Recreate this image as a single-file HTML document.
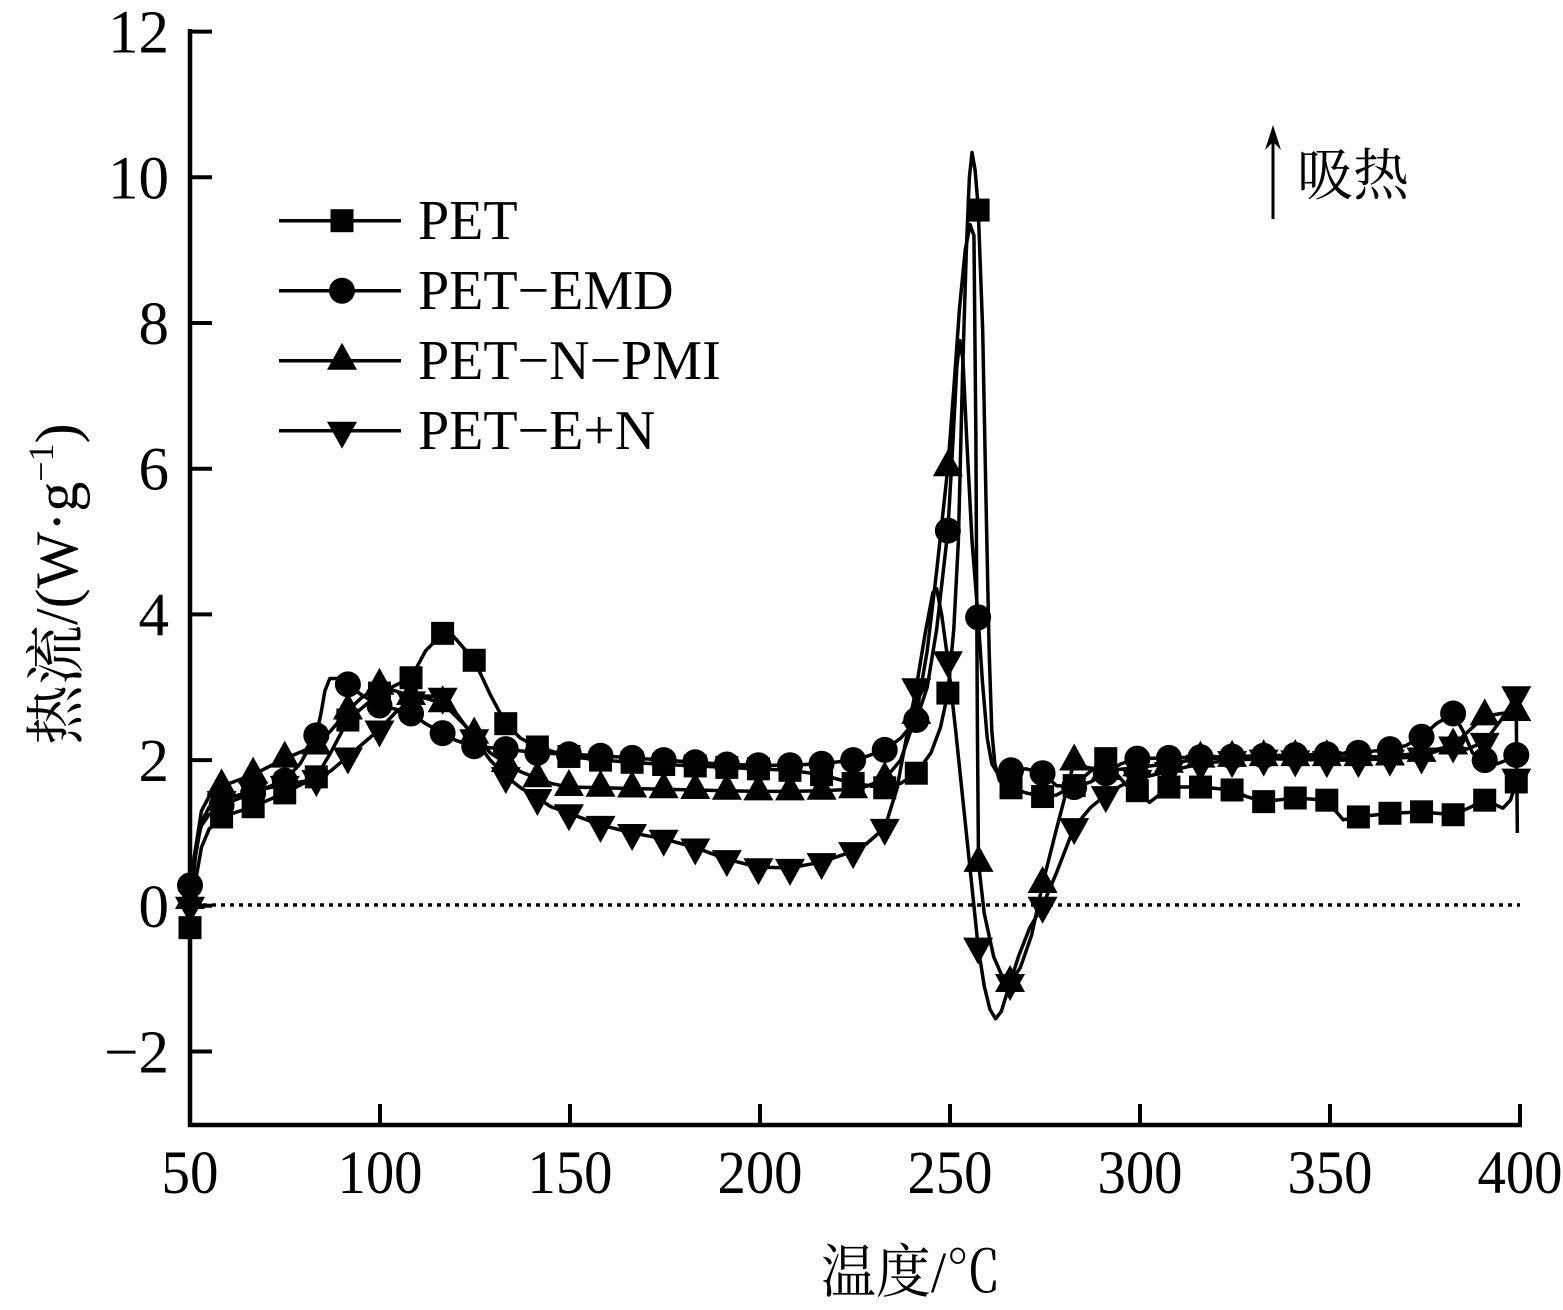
<!DOCTYPE html>
<html>
<head>
<meta charset="utf-8">
<style>
html,body{margin:0;padding:0;background:#fff;overflow:hidden;}
svg{display:block;}
text{fill:#000;}
.num{font-family:"Liberation Serif","Noto Serif CJK SC",serif;}
.cjk{font-family:"Liberation Serif","Noto Serif CJK SC","Noto Sans CJK SC",serif;}
</style>
</head>
<body>
<svg width="1563" height="1310" viewBox="0 0 1563 1310" xmlns="http://www.w3.org/2000/svg">
<defs>
  <g id="sq" transform="scale(0.2631579,-0.0137268)"><rect x="-11.5" y="-11.5" width="23" height="23" fill="#000"/></g>
  <g id="ci" transform="scale(0.2631579,-0.0137268)"><circle cx="0" cy="0" r="13" fill="#000"/></g>
  <g id="tu" transform="scale(0.2631579,-0.0137268)"><polygon points="0,-18 15,9 -15,9" fill="#000"/></g>
  <g id="td" transform="scale(0.2631579,-0.0137268)"><polygon points="-15,-9 15,-9 0,18" fill="#000"/></g>
</defs>

<!-- axes -->
<g stroke="#000" fill="none">
  <line x1="190" y1="29" x2="190" y2="1127" stroke-width="4.5"/>
  <line x1="188" y1="1125" x2="1522" y2="1125" stroke-width="4.5"/>
  <!-- y ticks -->
  <g stroke-width="4">
    <line x1="190" y1="31.6" x2="212" y2="31.6"/>
    <line x1="190" y1="177.3" x2="212" y2="177.3"/>
    <line x1="190" y1="323" x2="212" y2="323"/>
    <line x1="190" y1="468.7" x2="212" y2="468.7"/>
    <line x1="190" y1="614.4" x2="212" y2="614.4"/>
    <line x1="190" y1="760.1" x2="212" y2="760.1"/>
    <line x1="190" y1="905.8" x2="212" y2="905.8"/>
    <line x1="190" y1="1051.5" x2="212" y2="1051.5"/>
    <!-- x ticks -->
    <line x1="380" y1="1125" x2="380" y2="1104"/>
    <line x1="570" y1="1125" x2="570" y2="1104"/>
    <line x1="760" y1="1125" x2="760" y2="1104"/>
    <line x1="950" y1="1125" x2="950" y2="1104"/>
    <line x1="1140" y1="1125" x2="1140" y2="1104"/>
    <line x1="1330" y1="1125" x2="1330" y2="1104"/>
    <line x1="1520" y1="1125" x2="1520" y2="1104"/>
  </g>
  <!-- zero dotted line -->
  <line x1="194" y1="905" x2="1520" y2="905" stroke-width="3.5" stroke-dasharray="4 5"/>
</g>

<!-- y tick labels -->
<g class="num" font-size="61" text-anchor="end">
  <text x="169" y="52.6">12</text>
  <text x="169" y="198.3">10</text>
  <text x="169" y="344">8</text>
  <text x="169" y="489.7">6</text>
  <text x="169" y="635.4">4</text>
  <text x="169" y="781.1">2</text>
  <text x="169" y="926.8">0</text>
  <text x="169" y="1072.5">−2</text>
</g>

<!-- x tick labels -->
<g class="num" font-size="61" text-anchor="middle">
  <text x="190" y="1193" textLength="57" lengthAdjust="spacingAndGlyphs">50</text>
  <text x="380" y="1193" textLength="85" lengthAdjust="spacingAndGlyphs">100</text>
  <text x="570" y="1193" textLength="85" lengthAdjust="spacingAndGlyphs">150</text>
  <text x="760" y="1193" textLength="85" lengthAdjust="spacingAndGlyphs">200</text>
  <text x="950" y="1193" textLength="85" lengthAdjust="spacingAndGlyphs">250</text>
  <text x="1140" y="1193" textLength="85" lengthAdjust="spacingAndGlyphs">300</text>
  <text x="1330" y="1193" textLength="85" lengthAdjust="spacingAndGlyphs">350</text>
  <text x="1520" y="1193" textLength="85" lengthAdjust="spacingAndGlyphs">400</text>
</g>

<!-- axis titles -->
<text class="cjk" x="821" y="1292" font-size="58" textLength="180" lengthAdjust="spacingAndGlyphs">温度/℃</text>
<text class="cjk" font-size="60" transform="translate(77,745) rotate(-90)">热流/(W·g<tspan font-size="36" dy="-24">−1</tspan><tspan font-size="60" dy="24">)</tspan></text>

<!-- endotherm annotation -->
<line x1="1273" y1="219" x2="1273" y2="135" stroke="#000" stroke-width="3"/>
<polygon points="1273,125 1281,150 1273,142 1265,150" fill="#000"/>
<text class="cjk" x="1297" y="195" font-size="56">吸热</text>

<!-- legend -->
<g stroke="#000" stroke-width="3.5">
  <line x1="279" y1="220.7" x2="401" y2="220.7"/>
  <line x1="279" y1="290.7" x2="401" y2="290.7"/>
  <line x1="279" y1="360.7" x2="401" y2="360.7"/>
  <line x1="279" y1="430.7" x2="401" y2="430.7"/>
</g>
<rect x="330.5" y="209.2" width="23" height="23" fill="#000"/>
<circle cx="342" cy="290.7" r="13" fill="#000"/>
<polygon points="342,342.7 357,369.7 327,369.7" fill="#000"/>
<polygon points="327,421.7 357,421.7 342,448.7" fill="#000"/>
<g class="num" font-size="56">
  <text x="418" y="239">PET</text>
  <text x="418" y="309">PET−EMD</text>
  <text x="418" y="379">PET−N−PMI</text>
  <text x="418" y="449">PET−E+N</text>
</g>

<!-- data (x = T*3.8, y = 905.8 - 72.85*v) -->
<g transform="matrix(3.8 0 0 -72.85 0 905.8)">
  <!-- PET -->
  <polyline fill="none" stroke="#000" stroke-width="3.5" stroke-linejoin="round" vector-effect="non-scaling-stroke"
   points="50,-0.30 51.5,0.35 53,0.8 55,1.05 58.31,1.22 66.62,1.36 74.93,1.55 83.24,1.77 87,2.1 91.55,2.55 99.86,2.92 108.17,3.13 112,3.5 116.48,3.74 119,3.72 121,3.6 124.79,3.37 129,2.9 133.10,2.50 137,2.3 141.41,2.18 149.72,2.05 158.03,2.00 166.34,1.97 174.65,1.94 182.96,1.92 191.27,1.90 199.58,1.88 207.89,1.86 216.20,1.80 224.51,1.68 232.82,1.62 237,1.68 241.13,1.82 245,2.1 247.5,2.45 249.44,2.92 251,3.8 252.2,5.0 253.3,7.3 254.3,9.0 255.1,10.0 255.8,10.34 256.6,10.1 257.4,9.6 258.6,7.9 259.5,5.5 260.3,3.5 261,2.4 261.8,1.95 263,1.72 264.5,1.63 266.06,1.62 270,1.55 274.37,1.50 278,1.52 282.68,1.65 287,1.85 290.99,2.02 294,1.8 297,1.62 299.30,1.58 302.5,1.42 305,1.52 307.61,1.63 315.92,1.63 324.23,1.59 328,1.5 332.54,1.43 340.85,1.48 349.16,1.45 351.5,1.3 353.5,1.18 357.47,1.22 365.78,1.27 374.09,1.29 382.40,1.25 386,1.33 390.71,1.45 393,1.4 395.5,1.34 397.5,1.45 399.02,1.70"/>
  <g>
   <use href="#sq" x="50" y="-0.30"/><use href="#sq" x="58.31" y="1.22"/><use href="#sq" x="66.62" y="1.36"/><use href="#sq" x="74.93" y="1.55"/><use href="#sq" x="83.24" y="1.77"/><use href="#sq" x="91.55" y="2.55"/><use href="#sq" x="99.86" y="2.92"/><use href="#sq" x="108.17" y="3.13"/><use href="#sq" x="116.48" y="3.74"/><use href="#sq" x="124.79" y="3.37"/><use href="#sq" x="133.10" y="2.50"/><use href="#sq" x="141.41" y="2.18"/><use href="#sq" x="149.72" y="2.05"/><use href="#sq" x="158.03" y="2.00"/><use href="#sq" x="166.34" y="1.97"/><use href="#sq" x="174.65" y="1.94"/><use href="#sq" x="182.96" y="1.92"/><use href="#sq" x="191.27" y="1.90"/><use href="#sq" x="199.58" y="1.88"/><use href="#sq" x="207.89" y="1.86"/><use href="#sq" x="216.20" y="1.80"/><use href="#sq" x="224.51" y="1.68"/><use href="#sq" x="232.82" y="1.62"/><use href="#sq" x="241.13" y="1.82"/><use href="#sq" x="249.44" y="2.92"/><use href="#sq" x="257.4" y="9.55"/><use href="#sq" x="266.06" y="1.62"/><use href="#sq" x="274.37" y="1.50"/><use href="#sq" x="282.68" y="1.65"/><use href="#sq" x="290.99" y="2.02"/><use href="#sq" x="299.30" y="1.58"/><use href="#sq" x="307.61" y="1.63"/><use href="#sq" x="315.92" y="1.63"/><use href="#sq" x="324.23" y="1.59"/><use href="#sq" x="332.54" y="1.43"/><use href="#sq" x="340.85" y="1.48"/><use href="#sq" x="349.16" y="1.45"/><use href="#sq" x="357.47" y="1.22"/><use href="#sq" x="365.78" y="1.27"/><use href="#sq" x="374.09" y="1.29"/><use href="#sq" x="382.40" y="1.25"/><use href="#sq" x="390.71" y="1.45"/><use href="#sq" x="399.02" y="1.70"/>
  </g>

  <!-- PET-EMD -->
  <polyline fill="none" stroke="#000" stroke-width="3.5" stroke-linejoin="round" vector-effect="non-scaling-stroke"
   points="50,0.28 51.5,0.8 53,1.1 55,1.25 58.31,1.38 66.62,1.55 74.93,1.72 79,1.95 83.24,2.34 84.5,2.65 85.5,2.95 86.8,3.12 89,3.12 91.55,3.04 95,2.9 99.86,2.75 104,2.7 108.17,2.64 112,2.5 116.48,2.37 120,2.27 124.79,2.19 133.10,2.15 141.41,2.10 149.72,2.08 158.03,2.06 166.34,2.03 174.65,2.00 182.96,1.97 191.27,1.94 199.58,1.93 207.89,1.93 216.20,1.95 224.51,2.00 228,2.05 232.82,2.14 237,2.3 241.13,2.55 244,3.0 246.5,3.8 249.44,5.15 250.8,6.4 251.8,7.4 252.6,7.76 253.4,7.5 254.5,6.3 255.8,5.0 257.4,3.96 258.5,3.1 259.8,2.3 261,1.95 262.5,1.82 264,1.82 266.06,1.86 270,1.88 274.37,1.82 278,1.65 282.68,1.63 287,1.7 290.99,1.82 295,1.95 299.30,2.02 307.61,2.03 315.92,2.04 324.23,2.05 332.54,2.06 340.85,2.07 349.16,2.08 357.47,2.10 365.78,2.15 370,2.2 374.09,2.32 378,2.5 382.40,2.64 385,2.4 387.5,2.1 390.71,2.0 394,1.95 396.5,2.0 399.02,2.07"/>
  <g>
   <use href="#ci" x="50" y="0.28"/><use href="#ci" x="58.31" y="1.38"/><use href="#ci" x="66.62" y="1.55"/><use href="#ci" x="74.93" y="1.72"/><use href="#ci" x="83.24" y="2.34"/><use href="#ci" x="91.55" y="3.04"/><use href="#ci" x="99.86" y="2.75"/><use href="#ci" x="108.17" y="2.64"/><use href="#ci" x="116.48" y="2.37"/><use href="#ci" x="124.79" y="2.19"/><use href="#ci" x="133.10" y="2.15"/><use href="#ci" x="141.41" y="2.10"/><use href="#ci" x="149.72" y="2.08"/><use href="#ci" x="158.03" y="2.06"/><use href="#ci" x="166.34" y="2.03"/><use href="#ci" x="174.65" y="2.00"/><use href="#ci" x="182.96" y="1.97"/><use href="#ci" x="191.27" y="1.94"/><use href="#ci" x="199.58" y="1.93"/><use href="#ci" x="207.89" y="1.93"/><use href="#ci" x="216.20" y="1.95"/><use href="#ci" x="224.51" y="2.00"/><use href="#ci" x="232.82" y="2.14"/><use href="#ci" x="241.13" y="2.55"/><use href="#ci" x="249.44" y="5.15"/><use href="#ci" x="257.4" y="3.96"/><use href="#ci" x="266.06" y="1.86"/><use href="#ci" x="274.37" y="1.82"/><use href="#ci" x="282.68" y="1.63"/><use href="#ci" x="290.99" y="1.82"/><use href="#ci" x="299.30" y="2.02"/><use href="#ci" x="307.61" y="2.03"/><use href="#ci" x="315.92" y="2.04"/><use href="#ci" x="324.23" y="2.05"/><use href="#ci" x="332.54" y="2.06"/><use href="#ci" x="340.85" y="2.07"/><use href="#ci" x="349.16" y="2.08"/><use href="#ci" x="357.47" y="2.10"/><use href="#ci" x="365.78" y="2.15"/><use href="#ci" x="374.09" y="2.32"/><use href="#ci" x="382.40" y="2.64"/><use href="#ci" x="390.71" y="2.0"/><use href="#ci" x="399.02" y="2.07"/>
  </g>

  <!-- PET-N-PMI -->
  <polyline fill="none" stroke="#000" stroke-width="3.5" stroke-linejoin="round" vector-effect="non-scaling-stroke"
   points="50,0.08 51.5,0.8 53,1.3 55,1.5 58.31,1.64 66.62,1.80 74.93,2.02 83.24,2.2 87,2.4 91.55,2.68 95,2.85 99.86,3.02 104,2.95 108.17,2.88 112,2.85 116.48,2.78 120,2.6 124.79,2.35 129,2.1 133.10,1.96 137,1.84 141.41,1.75 145,1.68 149.72,1.63 158.03,1.62 166.34,1.61 174.65,1.60 182.96,1.59 191.27,1.58 199.58,1.57 207.89,1.57 216.20,1.58 224.51,1.60 228,1.64 232.82,1.74 237,2.0 241.13,2.62 244,3.5 246.5,4.6 249.44,6.02 251,7.1 252.5,8.2 254,9.0 255.3,9.35 256.3,9.2 256.8,6.5 257.2,2.5 257.5,0.59 259,-0.1 261.5,-0.7 264,-1.0 265.8,-1.06 268.5,-0.85 271.5,-0.4 274.37,0.30 278,1.05 282.68,1.98 286,1.9 290.99,1.85 299.30,1.9 307.61,1.95 315.92,2.02 324.23,2.03 332.54,2.04 340.85,2.04 349.16,2.04 357.47,2.04 365.78,2.05 374.09,2.1 382.40,2.2 386.5,2.4 390.71,2.6 395,2.64 399.02,2.66 399.3,1.0"/>
  <g>
   <use href="#tu" x="50" y="0.08"/><use href="#tu" x="58.31" y="1.64"/><use href="#tu" x="66.62" y="1.80"/><use href="#tu" x="74.93" y="2.02"/><use href="#tu" x="83.24" y="2.2"/><use href="#tu" x="91.55" y="2.68"/><use href="#tu" x="99.86" y="3.02"/><use href="#tu" x="108.17" y="2.88"/><use href="#tu" x="116.48" y="2.78"/><use href="#tu" x="124.79" y="2.35"/><use href="#tu" x="133.10" y="1.96"/><use href="#tu" x="141.41" y="1.75"/><use href="#tu" x="149.72" y="1.63"/><use href="#tu" x="158.03" y="1.62"/><use href="#tu" x="166.34" y="1.61"/><use href="#tu" x="174.65" y="1.60"/><use href="#tu" x="182.96" y="1.59"/><use href="#tu" x="191.27" y="1.58"/><use href="#tu" x="199.58" y="1.57"/><use href="#tu" x="207.89" y="1.57"/><use href="#tu" x="216.20" y="1.58"/><use href="#tu" x="224.51" y="1.60"/><use href="#tu" x="232.82" y="1.74"/><use href="#tu" x="241.13" y="2.62"/><use href="#tu" x="249.44" y="6.02"/><use href="#tu" x="257.5" y="0.59"/><use href="#tu" x="265.8" y="-1.06"/><use href="#tu" x="274.37" y="0.30"/><use href="#tu" x="282.68" y="1.98"/><use href="#tu" x="290.99" y="1.85"/><use href="#tu" x="299.30" y="1.9"/><use href="#tu" x="307.61" y="1.95"/><use href="#tu" x="315.92" y="2.02"/><use href="#tu" x="324.23" y="2.03"/><use href="#tu" x="332.54" y="2.04"/><use href="#tu" x="340.85" y="2.04"/><use href="#tu" x="349.16" y="2.04"/><use href="#tu" x="357.47" y="2.04"/><use href="#tu" x="365.78" y="2.05"/><use href="#tu" x="374.09" y="2.1"/><use href="#tu" x="382.40" y="2.2"/><use href="#tu" x="390.71" y="2.6"/><use href="#tu" x="399.02" y="2.66"/>
  </g>

  <!-- PET-E+N -->
  <polyline fill="none" stroke="#000" stroke-width="3.5" stroke-linejoin="round" vector-effect="non-scaling-stroke"
   points="50,0.0 51.5,0.7 53,1.15 55,1.35 58.31,1.45 66.62,1.58 74.93,1.66 83.24,1.74 87,1.85 91.55,2.05 99.86,2.42 104,2.65 108.17,2.82 112,2.88 116.48,2.87 120,2.65 124.79,2.30 129,2.0 133.10,1.78 137,1.62 141.41,1.48 145,1.36 149.72,1.27 158.03,1.11 166.34,1.00 174.65,0.92 182.96,0.80 191.27,0.64 199.58,0.53 207.89,0.52 216.20,0.60 224.51,0.75 228,0.85 232.82,1.07 236,1.6 238.5,2.3 241.13,3.00 243.5,3.75 245.5,4.3 246.5,4.35 247.8,4.0 249.44,3.37 251.5,2.4 253.5,1.4 255.5,0.4 257.4,-0.56 259,-1.1 260.5,-1.42 262,-1.55 263.5,-1.45 265.8,-1.06 268,-0.7 271,-0.3 274.37,0.00 278,0.45 282.68,1.08 287,1.35 290.99,1.52 295,1.65 299.30,1.74 307.61,1.85 315.92,1.95 324.23,2.0 332.54,2.02 340.85,2.01 349.16,2.0 357.47,2.0 365.78,2.02 374.09,2.05 382.40,2.2 386,2.15 390.71,2.25 395,2.55 399.02,2.89"/>
  <g>
   <use href="#td" x="50" y="0.0"/><use href="#td" x="58.31" y="1.45"/><use href="#td" x="66.62" y="1.58"/><use href="#td" x="74.93" y="1.66"/><use href="#td" x="83.24" y="1.74"/><use href="#td" x="91.55" y="2.05"/><use href="#td" x="99.86" y="2.42"/><use href="#td" x="108.17" y="2.82"/><use href="#td" x="116.48" y="2.87"/><use href="#td" x="124.79" y="2.30"/><use href="#td" x="133.10" y="1.78"/><use href="#td" x="141.41" y="1.48"/><use href="#td" x="149.72" y="1.27"/><use href="#td" x="158.03" y="1.11"/><use href="#td" x="166.34" y="1.00"/><use href="#td" x="174.65" y="0.92"/><use href="#td" x="182.96" y="0.80"/><use href="#td" x="191.27" y="0.64"/><use href="#td" x="199.58" y="0.53"/><use href="#td" x="207.89" y="0.52"/><use href="#td" x="216.20" y="0.60"/><use href="#td" x="224.51" y="0.75"/><use href="#td" x="232.82" y="1.07"/><use href="#td" x="241.13" y="3.00"/><use href="#td" x="249.44" y="3.37"/><use href="#td" x="257.4" y="-0.56"/><use href="#td" x="265.8" y="-1.06"/><use href="#td" x="274.37" y="0.00"/><use href="#td" x="282.68" y="1.08"/><use href="#td" x="290.99" y="1.52"/><use href="#td" x="299.30" y="1.74"/><use href="#td" x="307.61" y="1.85"/><use href="#td" x="315.92" y="1.95"/><use href="#td" x="324.23" y="2.0"/><use href="#td" x="332.54" y="2.02"/><use href="#td" x="340.85" y="2.01"/><use href="#td" x="349.16" y="2.0"/><use href="#td" x="357.47" y="2.0"/><use href="#td" x="365.78" y="2.02"/><use href="#td" x="374.09" y="2.05"/><use href="#td" x="382.40" y="2.2"/><use href="#td" x="390.71" y="2.25"/><use href="#td" x="399.02" y="2.89"/><use href="#td" x="399.02" y="1.76"/>
  </g>
</g>
</svg>
</body>
</html>
